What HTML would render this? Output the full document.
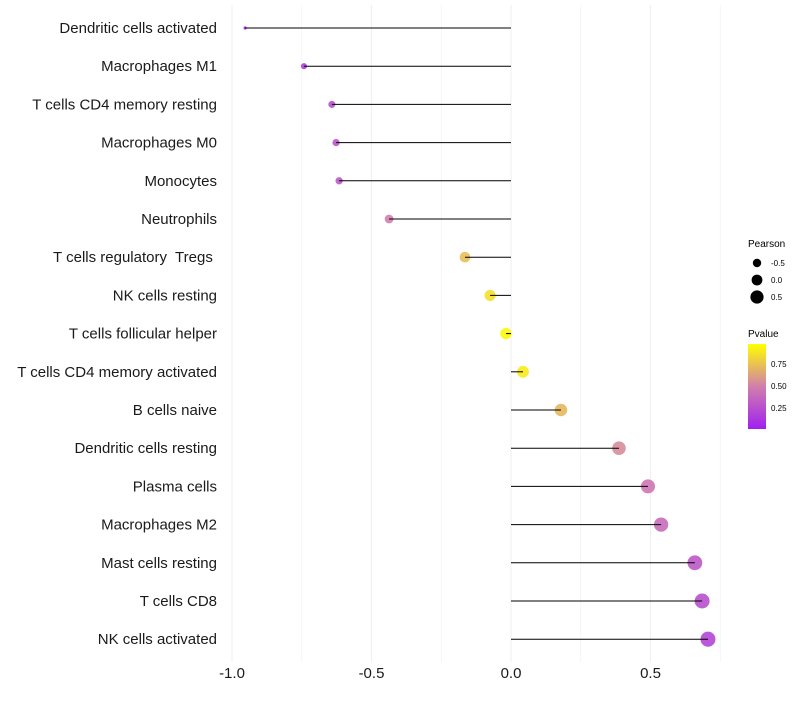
<!DOCTYPE html>
<html><head><meta charset="utf-8"><style>
body{margin:0;background:#fff;}
svg text{font-family:"Liberation Sans",sans-serif;white-space:pre;}
</style></head><body>
<svg id="chart" width="800" height="700" xmlns="http://www.w3.org/2000/svg">
<g id="grid"></g>
<g id="marks"></g>
<g id="ylabels"></g>
<g id="xticks"></g>
<g>
<text x="748" y="247" font-size="10">Pearson</text>
<circle cx="757" cy="263" r="4.2" fill="#000"/>
<circle cx="757" cy="280" r="5.4" fill="#000"/>
<circle cx="757" cy="297" r="6.6" fill="#000"/>
<text x="771" y="266" font-size="8">-0.5</text>
<text x="771" y="283" font-size="8">0.0</text>
<text x="771" y="300" font-size="8">0.5</text>
</g>
<g>
<defs><linearGradient id="pg" x1="0" y1="1" x2="0" y2="0">
<stop offset="0" stop-color="#a020f0"/><stop offset="0.5" stop-color="#d17fac"/><stop offset="1" stop-color="#ffff00"/>
</linearGradient></defs>
<text x="748" y="337" font-size="10">Pvalue</text>
<rect x="748" y="344" width="18" height="85" fill="url(#pg)"/>
<text x="771" y="367" font-size="8">0.75</text>
<text x="771" y="389" font-size="8">0.50</text>
<text x="771" y="411" font-size="8">0.25</text>
</g>
</svg>
<script>
const categories=["Dendritic cells activated","Macrophages M1","T cells CD4 memory resting","Macrophages M0","Monocytes","Neutrophils","T cells regulatory  Tregs ","NK cells resting","T cells follicular helper","T cells CD4 memory activated","B cells naive","Dendritic cells resting","Plasma cells","Macrophages M2","Mast cells resting","T cells CD8","NK cells activated"];
const pearson=[-0.953,-0.742,-0.642,-0.627,-0.616,-0.437,-0.165,-0.075,-0.018,0.043,0.179,0.387,0.491,0.538,0.659,0.685,0.706];
const pvalue=[0.01,0.15,0.25,0.28,0.3,0.5,0.75,0.88,0.97,0.92,0.72,0.55,0.45,0.4,0.3,0.25,0.2];
const xTicks=[-1.0,-0.5,0.0,0.5];
const xTickLabels=["-1.0","-0.5","0.0","0.5"];
const NS="http://www.w3.org/2000/svg";
const x=v=>511+(v)*279;
const y=i=>28+i*38.2;
function mk(tag,attrs,parent){const e=document.createElementNS(NS,tag);for(const k in attrs)e.setAttribute(k,attrs[k]);document.getElementById(parent).appendChild(e);return e;}
function col(p){const s=[[160,32,240],[209,127,172],[255,255,0]];let a,b,t;if(p<0.5){a=s[0];b=s[1];t=p/0.5;}else{a=s[1];b=s[2];t=(p-0.5)/0.5;}return `rgb(${a.map((c,i)=>Math.round(c+(b[i]-c)*t)).join(",")})`;}
const pmin=Math.min(...pearson),pmax=Math.max(...pearson);
const rad=v=>Math.sqrt(2.5+54*(v-pmin)/(pmax-pmin));
for(let k=0;k<8;k++){
 const g=-1+k*0.25;
 const l=mk("line",{x1:x(g),x2:x(g),y1:5,y2:662,stroke:"#f0f0f0","stroke-width":k%2===0?1.1:0.6},"grid");
 
 
}
categories.forEach((c,i)=>{
 const cy=y(i);
 const d=mk("circle",{cx:x(pearson[i]),cy:cy,r:rad(pearson[i]),fill:col(pvalue[i]),"fill-opacity":0.9},"marks");
 
 
 const s=mk("line",{x1:x(0),x2:x(pearson[i]),y1:cy,y2:cy,stroke:"#000","stroke-width":1},"marks");
 
 
 const t=mk("text",{x:217,y:cy+5,"text-anchor":"end","font-size":15,fill:"#1a1a1a"},"ylabels");
 t.textContent=c;
 
 
});
xTicks.forEach((v,i)=>{
 const t=mk("text",{x:x(v),y:678,"text-anchor":"middle","font-size":15,fill:"#1a1a1a"},"xticks");
 t.textContent=xTickLabels[i];
 
 
});
</script>
</body></html>
